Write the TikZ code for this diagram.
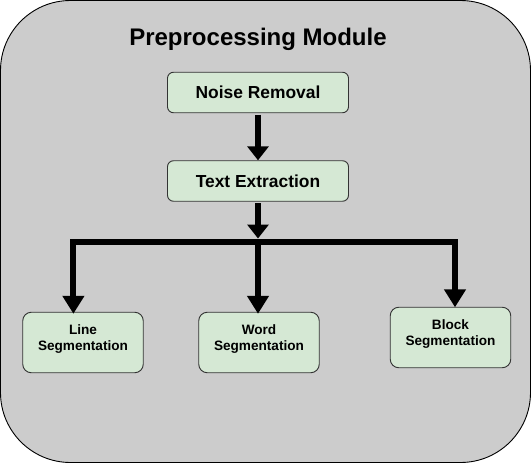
\documentclass[tikz,border=0pt]{standalone}
\usepackage{fontspec}
\setmainfont{Liberation Sans}
\usetikzlibrary{arrows.meta}
\definecolor{bggray}{HTML}{CCCCCC}
\definecolor{boxgreen}{HTML}{D5E8D4}
\definecolor{boxline}{HTML}{333333}
\begin{document}
\begin{tikzpicture}[x=1pt,y=-1pt,
  stage/.style={draw=boxline, line width=0.9pt, fill=boxgreen, rounded corners=6pt,
    minimum width=181pt, minimum height=40.5pt, inner sep=0pt,
    font=\fontsize{17.4}{20}\selectfont\bfseries},
  seg/.style={draw=boxline, line width=0.9pt, fill=boxgreen, rounded corners=8.5pt,
    minimum width=120.5pt, minimum height=60.5pt, inner sep=0pt, align=center,
    text depth=10pt,
    font=\fontsize{13.6}{16}\selectfont\bfseries},
  arrA/.style={line width=6pt, -{Triangle[width=21pt,length=14pt]}},
  arrB/.style={line width=6pt, line join=miter, -{Triangle[width=21pt,length=18pt]}}
]
\useasboundingbox (0,0) rectangle (531,463);
\draw[fill=bggray, draw=black, line width=0.9pt, rounded corners=70pt] (0.5,0.5) rectangle (530.5,462.5);
\node (title) at (258,39) {\fontsize{24}{28}\selectfont\bfseries Preprocessing Module};
\node[stage] (noise) at (258,92.5) {Noise Removal};
\node[stage] (textx) at (258,181) {Text Extraction};
\node[seg] (line)  at (83,342.5)  {Line\\Segmentation};
\node[seg] (word)  at (259,342.5) {Word\\Segmentation};
\node[seg] (block) at (450.5,337.5) {Block\\Segmentation};
\coordinate (bartop) at (258,238.5);
\coordinate (split) at (258,241.5);
\draw[arrA, shorten <=1.5pt] (noise.south) -- (textx.north);
\draw[arrA, shorten <=1.5pt] (textx.south) -- (bartop);
\draw[arrB] (split) -| ([xshift=-9.6pt,yshift=-2pt]line.north);
\draw[arrB] (split) -| ([xshift=4.5pt,yshift=-0.5pt]block.north);
\draw[arrB] (split) -- ([yshift=-2pt]word.north -| split);
\end{tikzpicture}
\end{document}
